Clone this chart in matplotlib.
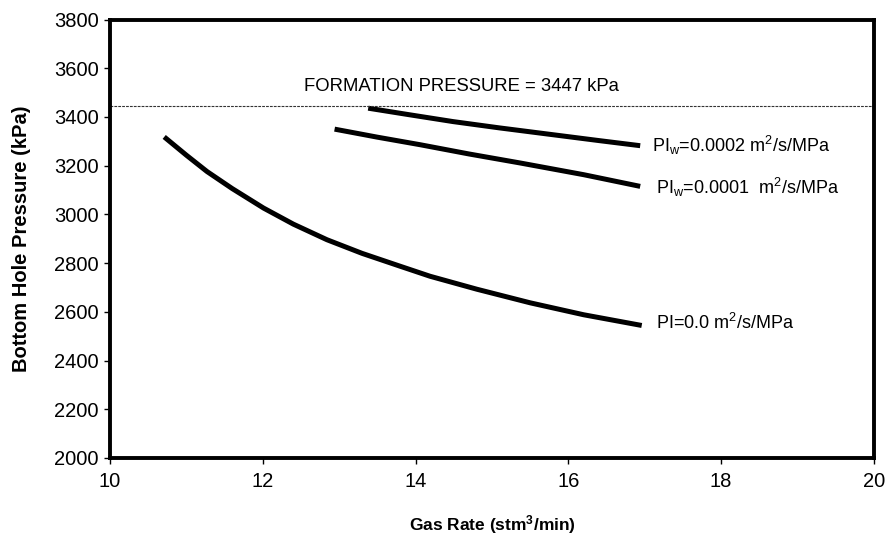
import matplotlib
matplotlib.use("Agg")
import matplotlib.pyplot as plt

plt.rcParams['font.family'] = ['Liberation Sans', 'DejaVu Sans']
plt.rcParams['mathtext.default'] = 'regular'

# Gas rate (stm3/min) vs bottom hole pressure (kPa) for three productivity indices
rate_pi0 = [10.71, 11.0, 11.27, 11.6, 12.01, 12.4, 12.84, 13.3, 13.80, 14.19, 14.8, 15.50, 16.2, 16.96]
bhp_pi0 = [3318, 3243, 3176, 3106, 3026, 2960, 2896, 2840, 2787, 2746, 2693, 2637, 2588, 2544]

rate_pi1 = [12.94, 13.5, 14.06, 14.7, 15.37, 16.2, 16.94]
bhp_pi1 = [3350, 3317, 3286, 3248, 3211, 3163, 3115]

rate_pi2 = [13.38, 13.9, 14.49, 15.1, 15.80, 16.4, 16.94]
bhp_pi2 = [3436, 3410, 3381, 3355, 3327, 3303, 3282]

formation_pressure = 3447

x_ticks = [10, 12, 14, 16, 18, 20]
y_ticks = [2000, 2200, 2400, 2600, 2800, 3000, 3200, 3400, 3600, 3800]

fig = plt.figure(figsize=(8.89, 5.42), dpi=100)
ax = fig.add_axes([0.1237, 0.155, 0.8594, 0.809])

for xs, ys in [(rate_pi0, bhp_pi0), (rate_pi1, bhp_pi1), (rate_pi2, bhp_pi2)]:
    ax.plot(xs, ys, color='black', lw=3.6, solid_capstyle='butt',
            solid_joinstyle='round')

ax.axhline(formation_pressure, color='#333333', lw=0.8, linestyle=(0, (2.5, 1)))
ax.text(14.6, formation_pressure + 45, 'FORMATION PRESSURE = 3447 kPa',
        ha='center', va='bottom', fontsize=13.3)

ax.text(17.1, bhp_pi2[-1], r'PI$_{w}$=0.0002 m$^{2}$/s/MPa',
        ha='left', va='center', fontsize=13)
ax.text(17.15, bhp_pi1[-1] - 5, r'PI$_{w}$=0.0001  m$^{2}$/s/MPa',
        ha='left', va='center', fontsize=13)
ax.text(17.15, bhp_pi0[-1] + 10, r'PI=0.0 m$^{2}$/s/MPa',
        ha='left', va='center', fontsize=13)

ax.set_xlim(10, 20)
ax.set_ylim(2000, 3800)
ax.set_xticks(x_ticks)
ax.set_yticks(y_ticks)
ax.tick_params(direction='out', length=4, width=1, labelsize=14.5, pad=4)
ax.tick_params(axis='x', pad=6)

for sp in ax.spines.values():
    sp.set_linewidth(2.8)

ax.set_xlabel('Gas Rate (stm$^{3}$/min)', fontsize=12.5, fontweight='bold')
ax.set_ylabel('Bottom Hole Pressure (kPa)', fontsize=14.5, fontweight='bold')
ax.xaxis.set_label_coords(0.5, -0.125)
ax.yaxis.set_label_coords(-0.104, 0.5)

fig.savefig('out.png', dpi=100, facecolor='white')
